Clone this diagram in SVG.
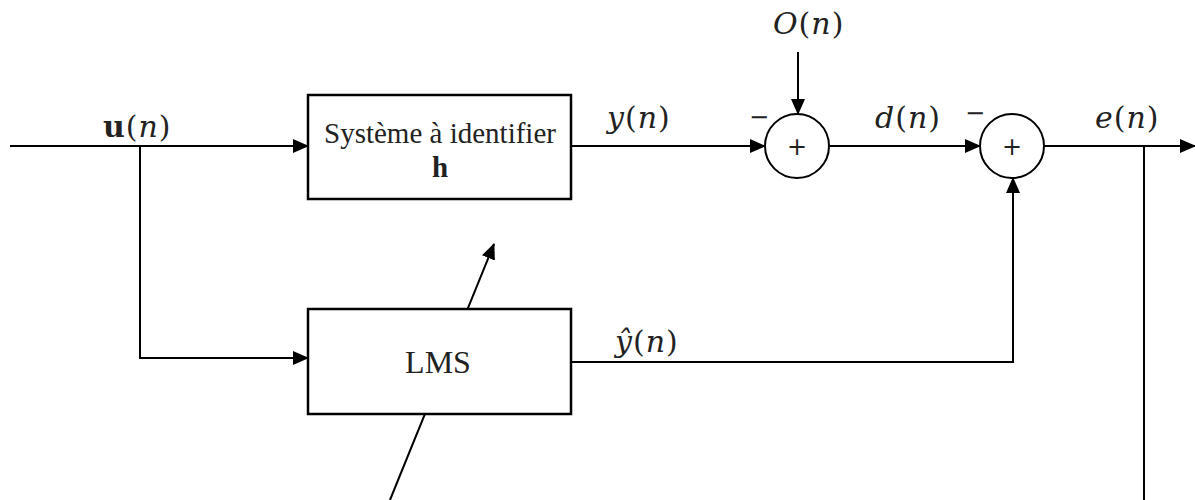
<svg xmlns="http://www.w3.org/2000/svg" width="1195" height="500" viewBox="0 0 1195 500">
  <defs>
    <marker id="arrow" markerWidth="16" markerHeight="14" refX="15" refY="7" orient="auto" markerUnits="userSpaceOnUse">
      <path d="M0,0 L16,7 L0,14 Z" fill="#000"/>
    </marker>
  </defs>
  <style>
    .wire { fill: none; stroke: #000; stroke-width: 2; }
    .box { fill: #fff; stroke: #000; stroke-width: 2.5; }
    .sum { fill: #fff; stroke: #000; stroke-width: 2; }
    .blk { font-family: "Liberation Serif", "Times New Roman", serif; fill: #222; text-anchor: middle; }
    .math { font-family: "DejaVu Serif", "Liberation Serif", serif; fill: #222; font-size: 30px; letter-spacing: 1px; }
    .plus { font-family: "DejaVu Sans", sans-serif; font-size: 24px; fill: #222; text-anchor: middle; }
  </style>

  <!-- connectors -->
  <g id="connectors">
    <line class="wire" x1="10" y1="146" x2="308" y2="146" marker-end="url(#arrow)"/>
    <polyline class="wire" points="140,146 140,358 308,358" marker-end="url(#arrow)"/>
    <line class="wire" x1="571" y1="146" x2="765" y2="146" marker-end="url(#arrow)"/>
    <line class="wire" x1="798" y1="52" x2="798" y2="114" marker-end="url(#arrow)"/>
    <line class="wire" x1="830" y1="146" x2="980" y2="146" marker-end="url(#arrow)"/>
    <line class="wire" x1="1044" y1="146" x2="1195" y2="146" marker-end="url(#arrow)"/>
    <line class="wire" x1="1144" y1="146" x2="1144" y2="500"/>
    <polyline class="wire" points="571,362 1013,362 1013,178" marker-end="url(#arrow)"/>
    <!-- adaptation arrow crossing the LMS block -->
    <line class="wire" x1="390" y1="500" x2="494" y2="244" marker-end="url(#arrow)"/>
  </g>

  <g id="systeme">
    <rect class="box" x="308" y="95" width="263" height="104"/>
    <text class="blk" x="440" y="143" font-size="29">Système à identifier</text>
    <text class="blk" x="440" y="177" font-size="29" font-weight="bold">h</text>
  </g>

  <g id="lms">
    <rect class="box" x="308" y="309" width="263" height="105"/>
    <text class="blk" x="438" y="373" font-size="32">LMS</text>
  </g>

  <g id="sum1">
    <circle class="sum" cx="797" cy="146" r="32"/>
    <text class="plus" x="797" y="155">+</text>
    <text class="plus" x="759" y="125">−</text>
  </g>

  <g id="sum2">
    <circle class="sum" cx="1012" cy="146" r="32"/>
    <text class="plus" x="1012" y="155">+</text>
    <text class="plus" x="975" y="121">−</text>
  </g>

  <g id="labels">
    <text class="math" x="103" y="137"><tspan font-weight="bold">u</tspan>(<tspan font-style="italic">n</tspan>)</text>
    <text class="math" x="607" y="128"><tspan font-style="italic">y</tspan>(<tspan font-style="italic">n</tspan>)</text>
    <text class="math" x="773" y="34"><tspan font-style="italic">O</tspan>(<tspan font-style="italic">n</tspan>)</text>
    <text class="math" x="875" y="128"><tspan font-style="italic">d</tspan>(<tspan font-style="italic">n</tspan>)</text>
    <text class="math" x="1095" y="128"><tspan font-style="italic">e</tspan>(<tspan font-style="italic">n</tspan>)</text>
    <text class="math" x="615" y="352"><tspan font-style="italic">ŷ</tspan>(<tspan font-style="italic">n</tspan>)</text>
  </g>
</svg>
